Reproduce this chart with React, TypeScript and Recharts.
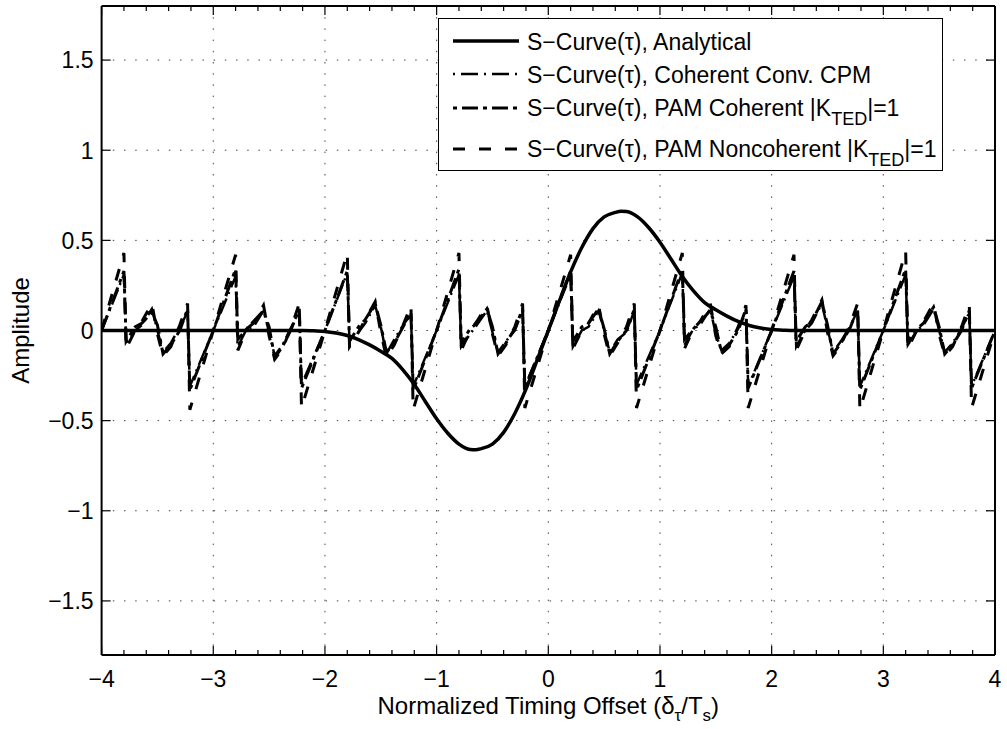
import { LineChart, Line, XAxis, YAxis, CartesianGrid, Legend } from 'recharts'

const FONT = '"Liberation Sans", Arial, Helvetica, sans-serif'

// Analytical S-curve, sampled every 0.1 where it is non-zero (plus the peaks)
const ANALYTIC_X = [
  -4, -2.2, -2.1, -2, -1.9, -1.8, -1.7, -1.6, -1.5, -1.4, -1.3, -1.2, -1.1, -1, -0.9, -0.8, -0.7, -0.65, -0.6, -0.5,
  -0.4, -0.3, -0.2, -0.1, 0, 0.1, 0.2, 0.3, 0.4, 0.5, 0.6, 0.65, 0.7, 0.8, 0.9, 1, 1.1, 1.2, 1.3, 1.4, 1.5, 1.6,
  1.7, 1.8, 1.9, 2, 2.1, 2.2, 4,
]
const ANALYTIC_Y = [
  0, 0, -0.002, -0.005, -0.014, -0.028, -0.05, -0.08, -0.115, -0.155, -0.22, -0.3, -0.395, -0.49, -0.57, -0.63,
  -0.66, -0.662, -0.655, -0.63, -0.565, -0.46, -0.325, -0.165, 0, 0.165, 0.325, 0.46, 0.565, 0.63, 0.655, 0.662,
  0.66, 0.63, 0.57, 0.49, 0.395, 0.3, 0.22, 0.155, 0.115, 0.08, 0.05, 0.028, 0.014, 0.005, 0.002, 0, 0,
]

// Simulated S-curves share the same offset grid
const NOISE_X = [
  -4, -3.8, -3.78, -3.7, -3.64, -3.55, -3.5, -3.45, -3.38, -3.3, -3.23, -3.21,
  -3, -2.8, -2.78, -2.7, -2.64, -2.55, -2.5, -2.45, -2.38, -2.3, -2.23, -2.21,
  -2, -1.8, -1.78, -1.7, -1.64, -1.55, -1.5, -1.45, -1.38, -1.3, -1.23, -1.21,
  -1, -0.8, -0.78, -0.7, -0.64, -0.55, -0.5, -0.45, -0.38, -0.3, -0.23, -0.21,
  0, 0.2, 0.22, 0.3, 0.36, 0.45, 0.5, 0.55, 0.62, 0.7, 0.77, 0.79,
  1, 1.2, 1.22, 1.3, 1.36, 1.45, 1.5, 1.55, 1.62, 1.7, 1.77, 1.79,
  2, 2.2, 2.22, 2.3, 2.36, 2.45, 2.5, 2.55, 2.62, 2.7, 2.77, 2.79,
  3, 3.2, 3.22, 3.3, 3.36, 3.45, 3.5, 3.55, 3.62, 3.7, 3.77, 3.79,
  4,
]
const CPM_Y = [
  0, 0.31, -0.08, 0, 0.03, 0.12, 0, -0.12, -0.07, 0.02, 0.1, -0.31,
  0, 0.3, -0.09, 0.01, 0.02, 0.11, -0.01, -0.14, -0.08, 0.02, 0.11, -0.3,
  0, 0.32, -0.07, -0.01, 0.04, 0.14, 0.02, -0.13, -0.05, 0.03, 0.09, -0.31,
  0, 0.31, -0.09, -0.02, 0.03, 0.11, -0.01, -0.12, -0.06, 0, 0.11, -0.31,
  0, 0.31, -0.09, 0, 0.02, 0.11, 0, -0.12, -0.05, -0.01, 0.11, -0.3,
  0, 0.32, -0.08, 0.01, 0.03, 0.12, -0.02, -0.11, -0.07, 0.01, 0.1, -0.31,
  0, 0.3, -0.09, 0, 0.04, 0.15, 0.01, -0.12, -0.06, 0.02, 0.11, -0.31,
  0, 0.31, -0.08, 0, 0.03, 0.12, 0, -0.12, -0.07, 0.01, 0.1, -0.31,
  0,
]
const PAM_COH_Y = [
  0, 0.33, -0.06, 0.02, 0.04, 0.1, 0.03, -0.13, -0.08, 0, 0.12, -0.33,
  0, 0.34, -0.05, 0.01, 0.05, 0.11, 0.02, -0.15, -0.09, 0.01, 0.12, -0.32,
  0, 0.33, -0.06, 0.02, 0.06, 0.15, 0.03, -0.12, -0.07, 0.02, 0.1, -0.33,
  0, 0.34, -0.07, 0.01, 0.04, 0.12, 0.02, -0.13, -0.07, 0.01, 0.12, -0.32,
  0, 0.33, -0.06, 0.02, 0.04, 0.12, 0.01, -0.13, -0.06, 0, 0.12, -0.33,
  0, 0.34, -0.05, 0.01, 0.05, 0.11, 0.02, -0.12, -0.08, 0, 0.12, -0.32,
  0, 0.33, -0.06, 0.02, 0.05, 0.16, 0.03, -0.13, -0.07, 0.01, 0.12, -0.33,
  0, 0.34, -0.06, 0.01, 0.04, 0.13, 0.02, -0.13, -0.08, 0, 0.11, -0.32,
  0,
]
const PAM_NONCOH_Y = [
  0, 0.43, -0.1, 0, 0.05, 0.15, -0.02, -0.14, -0.09, 0.03, 0.15, -0.44,
  0, 0.42, -0.11, 0.01, 0.04, 0.14, -0.03, -0.16, -0.1, 0.02, 0.15, -0.43,
  0, 0.43, -0.09, -0.01, 0.06, 0.16, -0.01, -0.15, -0.08, 0.03, 0.14, -0.44,
  0, 0.43, -0.11, 0, 0.05, 0.14, -0.02, -0.14, -0.08, 0.02, 0.15, -0.43,
  0, 0.42, -0.1, 0, 0.04, 0.14, -0.02, -0.14, -0.07, 0.02, 0.15, -0.43,
  0, 0.43, -0.1, 0.01, 0.05, 0.15, -0.03, -0.13, -0.09, 0.02, 0.14, -0.43,
  0, 0.42, -0.11, 0, 0.06, 0.17, -0.01, -0.14, -0.08, 0.03, 0.15, -0.44,
  0, 0.44, -0.1, 0, 0.05, 0.15, -0.02, -0.14, -0.09, 0.02, 0.14, -0.43,
  0,
]

const X_MAJOR = [-4, -3, -2, -1, 0, 1, 2, 3, 4]
const X_TICKS = [
  -4, -3.8, -3.6, -3.4, -3.2, -3, -2.8, -2.6, -2.4, -2.2, -2, -1.8, -1.6, -1.4, -1.2, -1, -0.8, -0.6, -0.4, -0.2,
  0, 0.2, 0.4, 0.6, 0.8, 1, 1.2, 1.4, 1.6, 1.8, 2, 2.2, 2.4, 2.6, 2.8, 3, 3.2, 3.4, 3.6, 3.8, 4,
]
const Y_TICKS = [-1.5, -1, -0.5, 0, 0.5, 1, 1.5]
const GRID_X = [-3, -2, -1, 0, 1, 2, 3]

const analyticData = ANALYTIC_X.map((x, i) => ({ x, y: ANALYTIC_Y[i] }))
const noiseData = NOISE_X.map((x, i) => ({
  x,
  cpm: CPM_Y[i],
  pamCoh: PAM_COH_Y[i],
  pamNoncoh: PAM_NONCOH_Y[i],
}))

const SERIES = [
  { key: 'analytic', pre: 'S\u2212Curve(\u03c4), Analytical', sub: '', post: '', width: 3.5, dash: undefined },
  { key: 'cpm', pre: 'S\u2212Curve(\u03c4), Coherent Conv. CPM', sub: '', post: '', width: 2.5, dash: '2 6 17 6' },
  { key: 'pamCoh', pre: 'S\u2212Curve(\u03c4), PAM Coherent |K', sub: 'TED', post: '|=1', width: 3, dash: '4 5 16 5' },
  { key: 'pamNoncoh', pre: 'S\u2212Curve(\u03c4), PAM Noncoherent |K', sub: 'TED', post: '|=1', width: 3, dash: '12 14' },
]
const LEGEND_LINE_Y = [23, 56, 90, 131]
const LEGEND_BASE_Y = [32, 65, 98, 139]

const fmt = (v: number) => String(v).replace('-', '\u2212')

function BottomTick(props: any) {
  const { x, y, payload } = props
  const major = X_MAJOR.includes(payload.value)
  return (
    <g>
      <line x1={x} x2={x} y1={y} y2={y - (major ? 9 : 5)} stroke="#000" strokeWidth={1.2} />
      {major && (
        <text x={x} y={y + 32} textAnchor="middle" fontSize={23} fontFamily={FONT} fill="#000">
          {fmt(payload.value)}
        </text>
      )}
    </g>
  )
}

function TopTick(props: any) {
  const { x, y, payload } = props
  const major = X_MAJOR.includes(payload.value)
  return <line x1={x} x2={x} y1={y} y2={y + (major ? 9 : 5)} stroke="#000" strokeWidth={1.2} />
}

function LeftTick(props: any) {
  const { x, y, payload } = props
  return (
    <g>
      <line x1={x} x2={x + 9} y1={y} y2={y} stroke="#000" strokeWidth={1.2} />
      <text x={x - 8} y={y} dy="0.36em" textAnchor="end" fontSize={23} fontFamily={FONT} fill="#000">
        {fmt(payload.value)}
      </text>
    </g>
  )
}

function RightTick(props: any) {
  const { x, y } = props
  return <line x1={x} x2={x - 9} y1={y} y2={y} stroke="#000" strokeWidth={1.2} />
}

function XLabel(props: any) {
  const { viewBox } = props
  const cx = viewBox.x + viewBox.width / 2
  return (
    <text x={cx} y={viewBox.y + 59} textAnchor="middle" fontSize={24} fontFamily={FONT} fill="#000">
      Normalized Timing Offset (δ
      <tspan dy={7} fontSize={17}>τ</tspan>
      <tspan dy={-7}>/T</tspan>
      <tspan dy={7} fontSize={17}>s</tspan>
      <tspan dy={-7}>)</tspan>
    </text>
  )
}

function YLabel(props: any) {
  const { viewBox } = props
  const cy = viewBox.y + viewBox.height / 2
  return (
    <text transform={`translate(29, ${cy}) rotate(-90)`} textAnchor="middle" fontSize={24} fontFamily={FONT} fill="#000">
      Amplitude
    </text>
  )
}

function LegendBox() {
  return (
    <svg width={505} height={153} style={{ display: 'block' }}>
      <rect x={0.5} y={0.5} width={504} height={152} fill="#fff" stroke="#000" strokeWidth={1} />
      {SERIES.map((s, i) => (
        <g key={s.key}>
          <line x1={15} x2={81} y1={LEGEND_LINE_Y[i]} y2={LEGEND_LINE_Y[i]} stroke="#000" strokeWidth={s.width} strokeDasharray={s.dash} />
          <text x={89} y={LEGEND_BASE_Y[i]} fontSize={23} fontFamily={FONT} fill="#000">
            {s.pre}
            {s.sub && <tspan dy={9} fontSize={18}>{s.sub}</tspan>}
            {s.sub && <tspan dy={-9}>{s.post}</tspan>}
          </text>
        </g>
      ))}
    </svg>
  )
}

export default function App() {
  const axisLine = { stroke: '#000', strokeWidth: 2 }
  return (
    <div style={{ position: 'absolute', left: 0, top: 0, width: 1007, height: 729, background: '#fff', fontFamily: FONT }}>
      <LineChart width={1007} height={729} margin={{ top: 0, right: 0, bottom: 0, left: 0 }}>
        <CartesianGrid
          stroke="#444"
          strokeWidth={1}
          strokeDasharray="1.5 9.7"
          verticalValues={GRID_X}
          horizontalValues={Y_TICKS}
        />
        <XAxis
          type="number"
          dataKey="x"
          domain={[-4, 4]}
          allowDataOverflow
          ticks={X_TICKS}
          interval={0}
          height={74}
          tickSize={0}
          tickMargin={0}
          tickLine={false}
          axisLine={axisLine}
          tick={(p: any) => <BottomTick {...p} />}
          label={{ content: XLabel }}
        />
        <XAxis
          xAxisId="top"
          orientation="top"
          type="number"
          dataKey="x"
          domain={[-4, 4]}
          allowDataOverflow
          ticks={X_TICKS}
          interval={0}
          height={6}
          tickSize={0}
          tickMargin={0}
          tickLine={false}
          axisLine={axisLine}
          tick={(p: any) => <TopTick {...p} />}
        />
        <YAxis
          type="number"
          domain={[-1.8, 1.8]}
          allowDataOverflow
          ticks={Y_TICKS}
          interval={0}
          width={101.6}
          tickSize={0}
          tickMargin={0}
          tickLine={false}
          axisLine={axisLine}
          tick={(p: any) => <LeftTick {...p} />}
          label={{ content: YLabel }}
        />
        <YAxis
          yAxisId="right"
          orientation="right"
          type="number"
          domain={[-1.8, 1.8]}
          allowDataOverflow
          ticks={Y_TICKS}
          interval={0}
          width={12}
          tickSize={0}
          tickMargin={0}
          tickLine={false}
          axisLine={axisLine}
          tick={(p: any) => <RightTick {...p} />}
        />
        <Line data={analyticData} dataKey="y" type="monotone" stroke="#000" strokeWidth={3.5} dot={false} isAnimationActive={false} />
        <Line data={noiseData} dataKey="cpm" type="linear" stroke="#000" strokeWidth={2.5} strokeDasharray="16 5 2 5" dot={false} isAnimationActive={false} />
        <Line data={noiseData} dataKey="pamCoh" type="linear" stroke="#000" strokeWidth={3} strokeDasharray="16 5 4 5" dot={false} isAnimationActive={false} />
        <Line data={noiseData} dataKey="pamNoncoh" type="linear" stroke="#000" strokeWidth={3} strokeDasharray="12 14" dot={false} isAnimationActive={false} />
        <Legend
          layout="horizontal"
          verticalAlign="middle"
          align="center"
          wrapperStyle={{ left: 438, top: 18, width: 505, height: 153 }}
          content={() => <LegendBox />}
        />
      </LineChart>
    </div>
  )
}
